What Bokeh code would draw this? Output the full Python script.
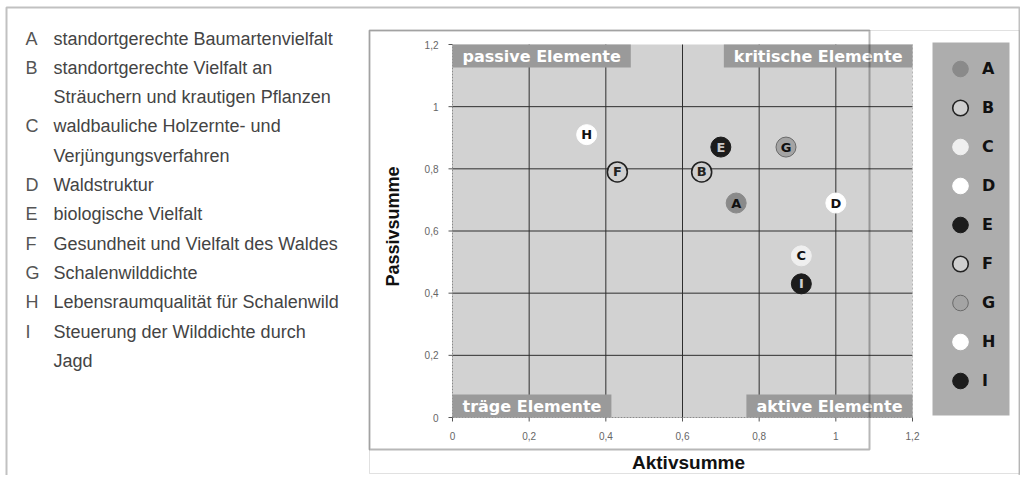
import math
from bokeh.plotting import figure
from bokeh.models import (Range1d, Label, BoxAnnotation, Legend, LegendItem, ColumnDataSource)
from bokeh.core.properties import value
from bokeh.embed import file_html
from bokeh.resources import INLINE

# ---------------- data ----------------
LETTERS = ["A", "B", "C", "D", "E", "F", "G", "H", "I"]
AKTIV = [0.74, 0.65, 0.91, 1.00, 0.70, 0.43, 0.87, 0.35, 0.91]
PASSIV = [0.69, 0.79, 0.52, 0.69, 0.87, 0.79, 0.87, 0.91, 0.43]
DESCRIPTIONS = [
    ["standortgerechte Baumartenvielfalt"],
    ["standortgerechte Vielfalt an", "Sträuchern und krautigen Pflanzen"],
    ["waldbauliche Holzernte- und", "Verjüngungsverfahren"],
    ["Waldstruktur"],
    ["biologische Vielfalt"],
    ["Gesundheit und Vielfalt des Waldes"],
    ["Schalenwilddichte"],
    ["Lebensraumqualität für Schalenwild"],
    ["Steuerung der Wilddichte durch", "Jagd"],
]
TICKS = [0, 0.2, 0.4, 0.6, 0.8, 1.0, 1.2]
TICK_LABELS = ["0", "0,2", "0,4", "0,6", "0,8", "1", "1,2"]
QUADRANTS = ["passive Elemente", "kritische Elemente", "träge Elemente", "aktive Elemente"]
X_TITLE = "Aktivsumme"
Y_TITLE = "Passivsumme"
AX_MIN, AX_MAX = TICKS[0], TICKS[-1]

# ---------------- styles ----------------
FILL = ["#8a8a8a", "#cfcfcf", "#efefef", "#ffffff", "#1c1c1c", "#cfcfcf", "#a4a4a4", "#ffffff", "#1c1c1c"]
LINE = ["#8a8a8a", "#222222", "#efefef", "#ffffff", "#1c1c1c", "#222222", "#6a6a6a", "#ffffff", "#1c1c1c"]
LWID = [1, 1.6, 1, 1, 1, 1.6, 1, 1, 1]
TXT = ["#111", "#222", "#111", "#111", "#c8c8c8", "#222", "#111", "#111", "#d0d0d0"]

W, H = 1020, 475
FL, FR, FT, FB = 452, 912, 44, 417   # plot area (0..1.2 x 0..1.2) in page pixels

SXP = (FR - FL) / (AX_MAX - AX_MIN)
SYP = (FB - FT) / (AX_MAX - AX_MIN)
def X(px):
    return AX_MIN + (px - FL) / SXP
def Y(py):
    return AX_MIN + (FB - py) / SYP

p = figure(width=W, height=H, x_range=Range1d(X(0), X(W)), y_range=Range1d(Y(H), Y(0)),
           output_backend="svg", toolbar_location=None, title=None,
           x_axis_location=None, y_axis_location=None, min_border=0)
p.background_fill_color = "white"
p.border_fill_color = "white"
p.outline_line_color = None
p.xgrid.visible = False
p.ygrid.visible = False

# plot area background
p.quad(left=[AX_MIN], right=[AX_MAX], bottom=[AX_MIN], top=[AX_MAX],
       fill_color="#d2d2d2", line_color=None)

# grid lines
inner = TICKS[1:-1]
n = len(inner)
p.segment(x0=inner, x1=inner, y0=[AX_MIN] * n, y1=[AX_MAX] * n, line_color="#2e2e2e", line_width=1)
p.segment(x0=[AX_MIN] * n, x1=[AX_MAX] * n, y0=inner, y1=inner, line_color="#2e2e2e", line_width=1)
# axis lines + edges
p.segment(x0=[AX_MIN, AX_MIN], x1=[AX_MAX, AX_MIN], y0=[AX_MIN, AX_MIN], y1=[AX_MIN, AX_MAX],
          line_color="#8a8a8a", line_width=1, line_dash="2 1")
p.segment(x0=[AX_MAX], x1=[AX_MAX], y0=[AX_MIN], y1=[AX_MAX], line_color="#b5b5b5", line_width=1, line_dash="2 2")

# ticks
m = len(TICKS)
p.ray(x=TICKS, y=[AX_MIN] * m, length=4, length_units="screen", angle=-math.pi / 2,
      line_color="#555555", line_width=1)
p.ray(x=[AX_MIN] * m, y=TICKS, length=4, length_units="screen", angle=math.pi,
      line_color="#555555", line_width=1)
# tick labels
p.text(x=TICKS, y=[AX_MIN] * m, text=TICK_LABELS, y_offset=18, text_align="center",
       text_baseline="middle", text_font=value("Liberation Sans"), text_font_size="10px",
       text_color="#666666")
p.text(x=[AX_MIN] * m, y=TICKS, text=TICK_LABELS, x_offset=-14, text_align="right",
       text_baseline="middle", text_font=value("Liberation Sans"), text_font_size="10px",
       text_color="#666666")

# axis titles
p.add_layout(Label(x=X(688), y=Y(462), text=X_TITLE, text_align="center", text_baseline="middle",
                   text_font="Liberation Sans", text_font_style="bold", text_font_size="19px",
                   text_color="#111111"))
p.add_layout(Label(x=X(392), y=Y(226), text=Y_TITLE, angle=math.pi / 2, text_align="center",
                   text_baseline="middle", text_font="Liberation Sans", text_font_style="bold",
                   text_font_size="18px", text_color="#111111"))

# quadrant labels
quad_pos = [(AX_MIN, AX_MAX, "top_left"), (AX_MAX, AX_MAX, "top_right"),
            (AX_MIN, AX_MIN, "bottom_left"), (AX_MAX, AX_MIN, "bottom_right")]
for txt, (qx, qy, anc) in zip(QUADRANTS, quad_pos):
    p.add_layout(Label(x=qx, y=qy, text=txt, anchor=anc, text_color="white",
                       text_font="DejaVu Sans", text_font_style="bold", text_font_size="16px",
                       background_fill_color="#9a9a9a", padding=(10, 2)))

# points
src = ColumnDataSource(dict(x=AKTIV, y=PASSIV, letter=LETTERS, fill=FILL, line=LINE, lw=LWID, tc=TXT))
r = p.scatter(x="x", y="y", source=src, size=20, fill_color="fill", line_color="line", line_width="lw")
p.text(x="x", y="y", text="letter", source=src, text_align="center", text_baseline="middle",
       text_color="tc", text_font=value("DejaVu Sans"), text_font_style="bold", text_font_size="13px")

# legend panel background
p.add_layout(BoxAnnotation(left=X(932), right=X(1009), top=Y(42), bottom=Y(415),
                           fill_color="#adadad", fill_alpha=1, line_color=None))
# legend
items = [LegendItem(label=l, renderers=[r], index=i) for i, l in enumerate(LETTERS)]
leg = Legend(items=items, location=(940, H - 400), orientation="vertical",
             background_fill_alpha=0, border_line_color=None,
             padding=0, spacing=0, margin=0, glyph_width=40, glyph_height=39,
             label_standoff=2, label_width=20, label_height=39,
             label_text_font="DejaVu Sans", label_text_font_style="bold",
             label_text_font_size="16px", label_text_color="#111111")
p.add_layout(leg)

# frames
p.add_layout(BoxAnnotation(left=X(6), right=X(1019), top=Y(7), bottom=Y(490),
                           fill_alpha=0, line_color="#333333", line_width=2))
p.add_layout(BoxAnnotation(left=X(369), right=X(1019), top=Y(30), bottom=Y(473),
                           fill_alpha=0, line_color="#9a9a9a", line_width=1))
p.add_layout(BoxAnnotation(left=X(369), right=X(869), top=Y(30), bottom=Y(449),
                           fill_alpha=0, line_color="#111111", line_width=2))

# left description list
row = 0
for letter, lines in zip(LETTERS, DESCRIPTIONS):
    p.add_layout(Label(x=X(25), y=Y(38 + 29.3 * row), text=letter, text_baseline="middle",
                       text_font="Liberation Sans", text_font_size="18px", text_color="#555555"))
    for ln in lines:
        p.add_layout(Label(x=X(53), y=Y(38 + 29.3 * row), text=ln, text_baseline="middle",
                           text_font="Liberation Sans", text_font_size="18px", text_color="#444444"))
        row += 1

open("out.html", "w").write(file_html(p, INLINE))
